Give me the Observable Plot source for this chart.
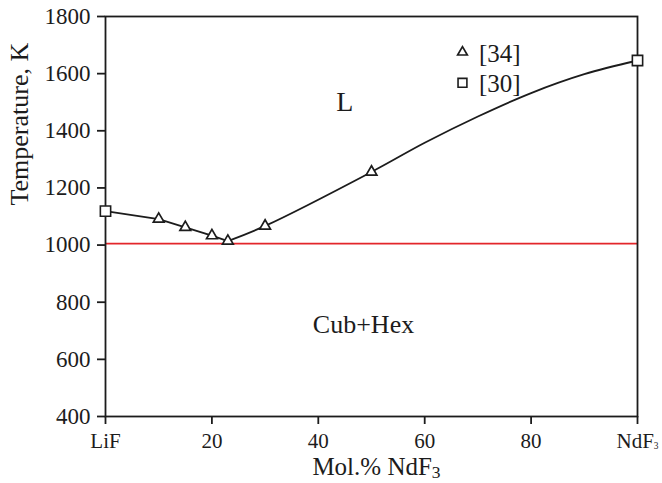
<!DOCTYPE html>
<html><head><meta charset="utf-8">
<script src="https://cdn.jsdelivr.net/npm/d3@7"></script>
<script src="https://cdn.jsdelivr.net/npm/@observablehq/plot@0.6"></script>
<style>
body{margin:0;background:#fff}
svg{display:block}
svg text{font-family:'Liberation Serif','Times New Roman',serif !important}
</style>
</head><body><div id="chart"></div>
<script>
// Data
const ref34X = [10, 15, 20, 23, 30, 50];
const ref34T = [1091, 1062, 1033, 1014, 1067, 1256];
const ref30X = [0, 100];
const ref30T = [1119, 1646];
const liqLeftX = [0, 10, 15, 20, 23];
const liqLeftT = [1119, 1091, 1062, 1033, 1014];
const liqRightX = [23, 30, 50, 60, 70, 80, 90, 100];
const liqRightT = [1014, 1067, 1256, 1358, 1450, 1532, 1598, 1646];
const eutecticT = 1005;
const xTicks = [0, 20, 40, 60, 80, 100];
const xTickLabels = ["LiF", "20", "40", "60", "80", "NdF3"];
const yTicks = [400, 600, 800, 1000, 1200, 1400, 1600, 1800];
const phaseLabels = ["L", "Cub+Hex"];
const legendLabels = ["[34]", "[30]"];

const zip = (xs, ys) => xs.map((x, i) => ({x, y: ys[i]}));
const ref34 = zip(ref34X, ref34T);
const ref30 = zip(ref30X, ref30T);
const left = zip(liqLeftX, liqLeftT);
const right = zip(liqRightX, liqRightT);
const xLabelMap = new Map(xTicks.map((t, i) => [t, xTickLabels[i]]));
const ink = "#1c1c1c";
const serif = "'Liberation Serif', 'Times New Roman', serif";

const chart = Plot.plot({
  width: 662,
  height: 483,
  marginLeft: 105,
  marginRight: 25,
  marginTop: 16,
  marginBottom: 67,
  style: {fontFamily: serif, background: "white", color: ink},
  x: {domain: [0, 100]},
  y: {domain: [400, 1800]},
  marks: [
    Plot.ruleY([eutecticT], {stroke: "#e3262b", strokeWidth: 1.6}),
    Plot.line(left, {x: "x", y: "y", stroke: ink, strokeWidth: 1.8}),
    Plot.line(right, {x: "x", y: "y", stroke: ink, strokeWidth: 1.8, curve: "catmull-rom"}),
    Plot.frame({stroke: ink, strokeWidth: 1.8}),
    Plot.axisX(xTicks, {tickSize: 8, tickPadding: 9, fontSize: 21, fontFamily: serif, strokeWidth: 1.8, color: ink,
      tickFormat: d => xLabelMap.get(d), label: null}),
    Plot.axisY(yTicks, {tickSize: 8, tickPadding: 7, fontSize: 23, fontFamily: serif, strokeWidth: 1.8, color: ink,
      tickFormat: d => String(d), label: null}),
    Plot.dot(ref34, {x: "x", y: "y", symbol: "triangle", r: 4, stroke: ink, fill: "white", strokeWidth: 1.7}),
    Plot.dot(ref30, {x: "x", y: "y", symbol: "square", r: 5.8, stroke: ink, fill: "white", strokeWidth: 1.6}),
    // phase labels
    Plot.text([phaseLabels[0]], {x: 45, y: 1500, text: d => d, fontSize: 28, fontFamily: serif, fill: ink}),
    Plot.text([phaseLabels[1]], {x: 48.5, y: 722, text: d => d, fontSize: 26, fontFamily: serif, fill: ink}),
    // legend
    Plot.dot([0], {x: 67.1, y: 1675, symbol: "triangle", r: 3.6, stroke: ink, fill: "white", strokeWidth: 1.7}),
    Plot.dot([0], {x: 67.1, y: 1568, symbol: "square", r: 5, stroke: ink, fill: "white", strokeWidth: 1.6}),
    Plot.text([legendLabels[0]], {x: 70.2, y: 1669, text: d => d, textAnchor: "start", fontSize: 25, fontFamily: serif, fill: ink}),
    Plot.text([legendLabels[1]], {x: 70.2, y: 1564, text: d => d, textAnchor: "start", fontSize: 25, fontFamily: serif, fill: ink}),
    // axis titles
    Plot.text(["Mol.% NdF3"], {frameAnchor: "bottom", text: d => d, lineAnchor: "bottom", dy: 58, dx: 5, fontSize: 25, fontFamily: serif, fill: ink}),
    Plot.text(["Temperature, K"], {frameAnchor: "left", text: d => d, rotate: -90, lineAnchor: "bottom", dx: -78, dy: -11, fontSize: 26, fontFamily: serif, fill: ink})
  ]
});

// subscripts
d3.select(chart).selectAll("text").each(function() {
  const t = this.textContent;
  if (t === "NdF3") {
    const s = d3.select(this);
    s.text("NdF");
    s.append("tspan").attr("font-size", "45%").attr("dy", "0.05em").text("3");
  } else if (t === "Mol.% NdF3") {
    const s = d3.select(this);
    s.text("Mol.% NdF");
    s.append("tspan").attr("font-size", "70%").attr("dy", "0.2em").text("3");
  }
});

document.getElementById("chart").appendChild(chart);
</script>
</body></html>
